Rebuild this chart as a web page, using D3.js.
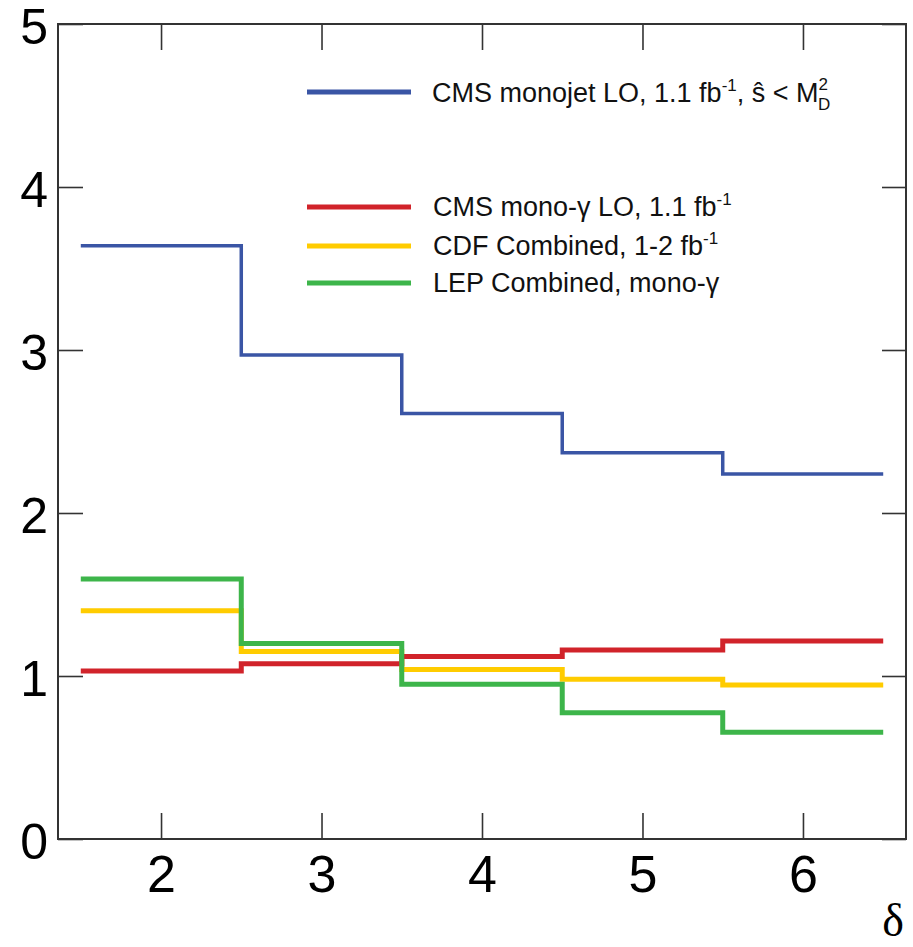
<!DOCTYPE html>
<html>
<head>
<meta charset="utf-8">
<script src="https://cdn.jsdelivr.net/npm/d3@7"></script>
<style>
  html, body { margin: 0; padding: 0; background: #fff; }
  svg { display: block; }
</style>
</head>
<body>
<svg id="chart" width="913" height="947"></svg>
<script>
// ---- data ----
const binEdges = [1.5, 2.5, 3.5, 4.5, 5.5, 6.5];
const xTicks = [2, 3, 4, 5, 6];
const yTicks = [0, 1, 2, 3, 4, 5];
const cmsMonojet = [3.64, 2.97, 2.61, 2.37, 2.24];
const cmsMonoGamma = [1.03, 1.075, 1.12, 1.16, 1.215];
const cdfCombined = [1.40, 1.15, 1.04, 0.98, 0.945];
const lepCombined = [1.595, 1.20, 0.95, 0.775, 0.655];
const xLabel = "δ";

const series = [
  { name: "cdf", values: cdfCombined, color: "#ffcc00", width: 5 },
  { name: "red", values: cmsMonoGamma, color: "#d1232a", width: 5 },
  { name: "lep", values: lepCombined, color: "#3db54a", width: 5 },
  { name: "blue", values: cmsMonojet, color: "#3a55a5", width: 3.5 }
];

const svg = d3.select("#chart");
const L = 58, R = 906, T = 24, B = 839;
const x = d3.scaleLinear().domain([1.358, 6.642]).range([L, R]);
const y = d3.scaleLinear().domain([0, 5]).range([B, T]);

const font = "'Liberation Sans', Arial, Helvetica, sans-serif";

// axes
const axB = svg.append("g").attr("transform", `translate(0,${B})`)
  .call(d3.axisBottom(x).tickValues(xTicks).tickSizeInner(-26).tickSizeOuter(0).tickPadding(16).tickFormat(d3.format("d")));
const axT = svg.append("g").attr("transform", `translate(0,${T})`)
  .call(d3.axisTop(x).tickValues(xTicks).tickSizeInner(-26).tickSizeOuter(0).tickFormat(""));
const axLeft = svg.append("g").attr("transform", `translate(${L},0)`)
  .call(d3.axisLeft(y).tickValues(yTicks).tickSizeInner(-25).tickSizeOuter(0).tickPadding(10).tickFormat(d3.format("d")));
const axRight = svg.append("g").attr("transform", `translate(${R},0)`)
  .call(d3.axisRight(y).tickValues(yTicks).tickSizeInner(-24).tickSizeOuter(0).tickFormat(""));

[axB, axT, axLeft, axRight].forEach(g => {
  g.selectAll(".domain").remove();
  g.selectAll(".tick line").attr("stroke", "#333").attr("stroke-width", 1.6);
  g.selectAll(".tick text").attr("font-family", font).attr("font-size", 52).attr("fill", "#000");
});
axB.selectAll(".tick text").attr("dy", "0.71em");
axLeft.selectAll(".tick text").attr("font-size", 50).attr("dy", "0.38em");

// frame
svg.append("rect").attr("x", L).attr("y", T).attr("width", R - L).attr("height", B - T)
  .attr("fill", "none").attr("stroke", "#333").attr("stroke-width", 2);

// step lines
const line = d3.line().x(d => x(d[0])).y(d => y(d[1])).curve(d3.curveStepAfter);
series.forEach(s => {
  const pts = s.values.map((v, i) => [binEdges[i], v]);
  pts.push([binEdges[binEdges.length - 1], s.values[s.values.length - 1]]);
  svg.append("path").datum(pts).attr("d", line)
    .attr("fill", "none").attr("stroke", s.color).attr("stroke-width", s.width)
    .attr("stroke-linejoin", "miter").attr("stroke-linecap", "butt");
});

// legend
const lg = svg.append("g").attr("font-family", font).attr("font-size", 27).attr("fill", "#111");
function legLine(yy, color) {
  lg.append("line").attr("x1", 307).attr("x2", 411).attr("y1", yy).attr("y2", yy)
    .attr("stroke", color).attr("stroke-width", 5);
}
legLine(92, "#3a55a5");
legLine(207, "#d1232a");
legLine(246, "#ffcc00");
legLine(283, "#3db54a");

// blue entry
let t = lg.append("text").attr("x", 432).attr("y", 102);
t.append("tspan").text("CMS monojet LO, 1.1 fb");
t.append("tspan").attr("font-size", 17).attr("dy", -11).text("-1");
t.append("tspan").attr("dy", 11).text(",  ŝ  <  M");
t.append("tspan").attr("font-size", 17).attr("dy", -12).text("2");
t.append("tspan").attr("font-size", 17).attr("dx", -10).attr("dy", 20).text("D");

t = lg.append("text").attr("x", 433).attr("y", 216);
t.append("tspan").text("CMS mono-γ LO, 1.1 fb");
t.append("tspan").attr("font-size", 17).attr("dy", -11).text("-1");

t = lg.append("text").attr("x", 433).attr("y", 255);
t.append("tspan").text("CDF Combined, 1-2 fb");
t.append("tspan").attr("font-size", 17).attr("dy", -11).text("-1");

lg.append("text").attr("x", 433).attr("y", 292).text("LEP Combined, mono-γ");

// x label
svg.append("text").attr("x", 904).attr("y", 936).attr("text-anchor", "end")
  .attr("font-family", "'Liberation Serif', 'DejaVu Serif', serif").attr("font-size", 46)
  .attr("fill", "#000").text(xLabel);
</script>
</body>
</html>
